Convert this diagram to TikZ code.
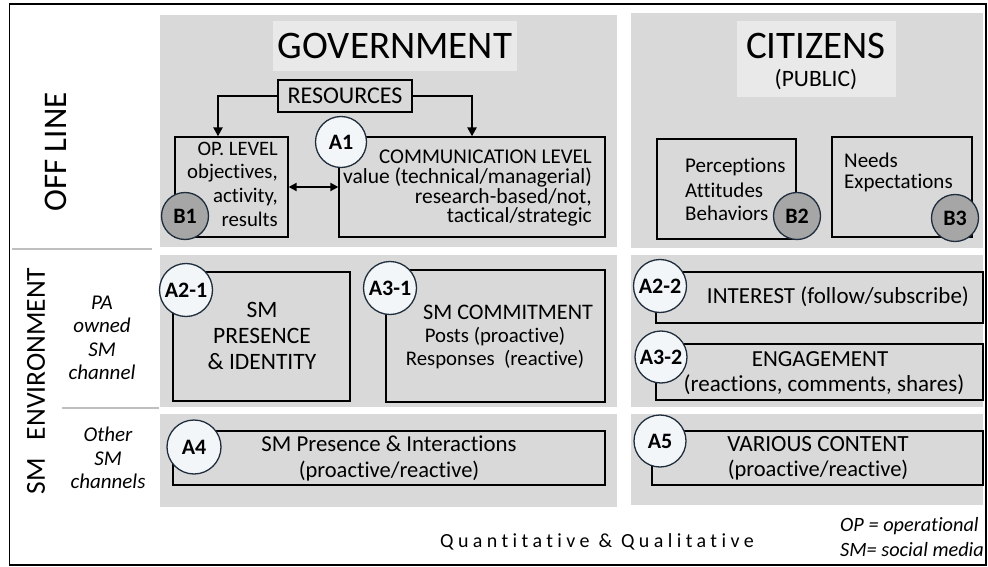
\documentclass[tikz,border=0pt]{standalone}
\usepackage{fontspec}
\setmainfont{Carlito}[Ligatures={NoCommon,NoRare}]
\usetikzlibrary{arrows.meta}

\definecolor{panelgray}{HTML}{D9D9D9}
\definecolor{titlegray}{HTML}{E9E9E9}
\definecolor{ringblue}{HTML}{1F2D3D}
\definecolor{tagwhite}{HTML}{F3F6F9}
\definecolor{taggray}{HTML}{A6A6A6}
\definecolor{rulegray}{HTML}{BFBFBF}

\newcommand\fsz[1]{\fontsize{#1}{#1}\selectfont}

\tikzset{
  panel/.style={fill=panelgray, draw=none},
  titlebox/.style={fill=titlegray, draw=none},
  itembox/.style={draw=black, line width=1.3pt, fill=panelgray, inner sep=0pt},
  tagA/.style={circle, draw=ringblue, line width=1.3pt, fill=tagwhite, inner sep=0pt,
    font=\bfseries\fsz{22}},
  tagB/.style={circle, draw=ringblue, line width=1.3pt, fill=taggray, inner sep=0pt,
    font=\bfseries\fsz{22}},
  flow/.style={line width=2.8pt, -{Triangle[length=9pt,width=9pt]}},
  twoway/.style={line width=2.2pt, {Triangle[length=8pt,width=8pt]}-{Triangle[length=8pt,width=8pt]}},
  txt/.style={inner sep=0pt, align=center},
  divider/.style={draw=rulegray, line width=1.8pt},
}

\begin{document}
\begin{tikzpicture}[x=1pt, y=-1pt]
\useasboundingbox (0,0) rectangle (988,567);
\fill[white] (0,0) rectangle (988,567);

% outer frame
\draw[line width=1.6pt] (9.5,4) rectangle (986,565);

% background panels
\fill[panel] (160,15) rectangle (617,247);
\fill[panel] (631,13) rectangle (983,248);
\fill[panel] (160,255) rectangle (617,407);
\fill[panel] (631,255) rectangle (983,407);
\fill[panel] (160,414) rectangle (617,507);
\fill[panel] (631,414) rectangle (983,505);

% column titles
\fill[titlebox] (273,21) rectangle (517,71);
\node[txt, font=\fsz{39}] (gov) at (395,46) {GOVERNMENT};
\fill[titlebox] (737,21) rectangle (896,97);
\node[txt, font=\fsz{39}] (cit) at (816,46) {CITIZENS};
\node[txt, font=\fsz{23.5}] (pub) at (816,80) {(PUBLIC)};

% row labels
\node[txt, rotate=90, font=\fsz{33}] (offline) at (56,152) {OFF LINE};
\node[txt, rotate=90, font=\fsz{27.5}] (smenv) at (36,381) {SM\hspace{18pt}ENVIRONMENT};
\draw[divider] (12,249) -- (152,249);
\draw[divider] (62,408) -- (159,408);
\node[txt, font=\itshape\fsz{21}, align=center] (paown) at (102,338)
  {PA\\[2.5pt]owned\\[2.5pt]SM\\[2.5pt]channel};
\node[txt, font=\itshape\fsz{21}, align=center] (other) at (108,458)
  {Other\\[2.5pt]SM\\[2.5pt]channels};

% ---------- government, off line ----------
\node[itembox, minimum width=134pt, minimum height=32pt] (res) at (345,96) {};
\node[txt, font=\fsz{24}] at (res) {RESOURCES};

\node[itembox, minimum width=113pt, minimum height=100pt] (op) at (231.5,187) {};
\node[txt, anchor=east, font=\fsz{20.5}] at (278,149) {OP. LEVEL};
\node[txt, anchor=east, font=\fsz{20.8}] at (278,173) {objectives,};
\node[txt, anchor=east, font=\fsz{20.8}] at (278,197) {activity,};
\node[txt, anchor=east, font=\fsz{20.8}] at (278,219) {results};

\node[itembox, minimum width=266pt, minimum height=100pt] (comm) at (472,187) {};
\node[txt, anchor=east, font=\fsz{21}] at (592,157) {COMMUNICATION LEVEL};
\node[txt, anchor=east, font=\fsz{21.5}] at (592,177) {value (technical/managerial)};
\node[txt, anchor=east, font=\fsz{21.5}] at (592,197) {research-based/not,};
\node[txt, anchor=east, font=\fsz{21.5}] at (592,217) {tactical/strategic};

\draw[flow] (res.west) -| ([xshift=-13.5pt]op.north);
\draw[flow] (res.east) -| (comm.north);
\draw[twoway] (op.east) -- (op.east -| comm.west);

\node[tagA, minimum size=51pt] (a1) at (341,142) {A1};
\node[tagB, minimum size=47pt] (b1) at (185,216) {B1};

% ---------- citizens, off line ----------
\node[itembox, minimum width=139pt, minimum height=100pt] (bpa) at (726.5,189) {};
\node[txt, anchor=west, font=\fsz{21}] at (685,167) {Perceptions};
\node[txt, anchor=west, font=\fsz{21}] at (685,190) {Attitudes};
\node[txt, anchor=west, font=\fsz{21}] at (685,213) {Behaviors};
\node[tagB, minimum size=47pt] (b2) at (797,216) {B2};

\node[itembox, minimum width=140pt, minimum height=100pt] (bne) at (902,187) {};
\node[txt, anchor=west, font=\fsz{21}] at (844,160) {Needs};
\node[txt, anchor=west, font=\fsz{21}] at (844,183) {Expectations};
\node[tagB, minimum size=47pt] (b3) at (955,218) {B3};

% ---------- PA owned SM channel ----------
\node[itembox, minimum width=177pt, minimum height=129pt] (pres) at (261.5,336.5) {};
\node[txt, font=\fsz{23.5}] at (262,310) {SM};
\node[txt, font=\fsz{23.5}] at (262,336) {PRESENCE};
\node[txt, font=\fsz{23.5}] at (262,362) {\&\ IDENTITY};
\node[tagA, minimum size=53pt] (a21) at (186,290) {A2-1};

\node[itembox, minimum width=219pt, minimum height=132pt] (commit) at (495.5,336) {};
\node[txt, font=\fsz{22.2}] at (508,312) {SM COMMITMENT};
\node[txt, font=\fsz{20.8}] at (495,337) {Posts (proactive)};
\node[txt, font=\fsz{20.8}] at (495,360) {Responses\ \ (reactive)};
\node[tagA, minimum size=53pt] (a31) at (390,288) {A3-1};

\node[itembox, minimum width=327pt, minimum height=51pt] (inter) at (819.5,297.5) {};
\node[txt, font=\fsz{23}] at (838,297) {INTEREST (follow/subscribe)};
\node[tagA, minimum size=53pt] (a22) at (660,286) {A2-2};

\node[itembox, minimum width=327pt, minimum height=56pt] (engage) at (819.5,372) {};
\node[txt, font=\fsz{23}] at (820,359) {ENGAGEMENT};
\node[txt, font=\fsz{23}] at (824,385) {(reactions, comments, shares)};
\node[tagA, minimum size=52pt] (a32) at (661,357) {A3-2};

% ---------- other SM channels ----------
\node[itembox, minimum width=432pt, minimum height=54pt] (gint) at (389,458) {};
\node[txt, font=\fsz{22.8}] at (389,444) {SM Presence \& Interactions};
\node[txt, font=\fsz{22.5}] at (389,471) {(proactive/reactive)};
\node[tagA, minimum size=54pt] (a4) at (194,447) {A4};

\node[itembox, minimum width=331pt, minimum height=54pt] (vari) at (817.5,458) {};
\node[txt, font=\fsz{23.2}] at (818,444) {VARIOUS CONTENT};
\node[txt, font=\fsz{22.5}] at (818,470) {(proactive/reactive)};
\node[tagA, minimum size=52pt] (a5) at (660,441) {A5};

% ---------- footer ----------
\node[txt, font=\fsz{20}\addfontfeature{LetterSpace=22}] (method) at (597,542)
  {Quantitative \& Qualitative};
\node[txt, anchor=west, font=\itshape\fsz{20.3}] (keyop) at (840,526) {OP = operational};
\node[txt, anchor=west, font=\itshape\fsz{20.3}] (keysm) at (840,550) {SM= social media};
\end{tikzpicture}
\end{document}
